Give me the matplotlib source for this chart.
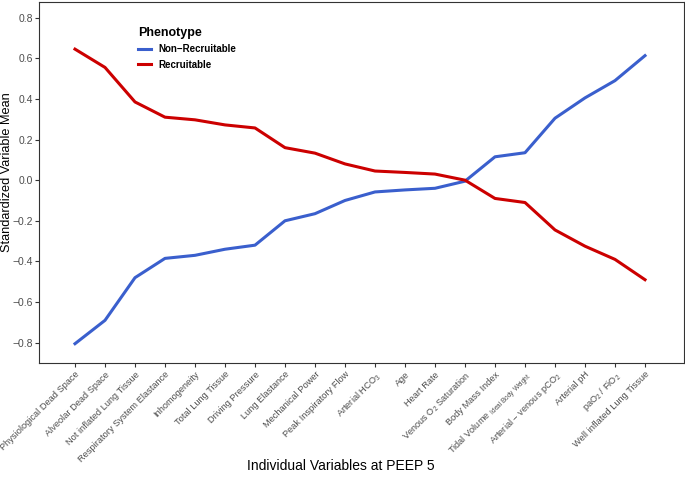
import numpy as np
import matplotlib
matplotlib.use("Agg")
import matplotlib.pyplot as plt

plt.rcParams['font.family'] = ['Liberation Sans', 'DejaVu Sans']
plt.rcParams['mathtext.fontset'] = 'custom'
plt.rcParams['mathtext.rm'] = 'Liberation Sans'
plt.rcParams['mathtext.it'] = 'Liberation Sans'

categories = [
    'Physiological Dead Space', 'Alveolar Dead Space', 'Not inflated Lung Tissue',
    'Respiratory System Elastance', 'Inhomogeneity', 'Total Lung Tissue',
    'Driving Pressure', 'Lung Elastance', 'Mechanical Power', 'Peak Inspiratory Flow',
    'Arterial HCO$_3$', 'Age', 'Heart Rate', 'Venous O$_2$ Saturation',
    'Body Mass Index', 'Tidal Volume $_{\\mathregular{Ideal\\ Body\\ Weight}}$',
    'Arterial \u2212 venous pCO$_2$', 'Arterial pH', 'paO$_2$ / FiO$_2$',
    'Well inflated Lung Tissue',
]
non_recruitable = [-0.805, -0.69, -0.48, -0.385, -0.37, -0.34, -0.32, -0.2, -0.165, -0.1,
                   -0.058, -0.048, -0.04, -0.005, 0.115, 0.135, 0.305, 0.405, 0.49, 0.613]
recruitable = [0.645, 0.555, 0.385, 0.31, 0.297, 0.272, 0.257, 0.16, 0.133, 0.08,
               0.045, 0.038, 0.03, 0.0, -0.09, -0.11, -0.245, -0.325, -0.39, -0.49]

fig = plt.figure(figsize=(6.85, 4.78), dpi=100)
ax = fig.add_axes([39 / 685, 1 - 363 / 478, (684 - 39) / 685, 361 / 478])

x = np.arange(len(categories))
ax.plot(x, non_recruitable, color='#3A5FCD', lw=2.2, label='Non\u2212Recruitable')
ax.plot(x, recruitable, color='#CC0000', lw=2.2, label='Recruitable')

ax.set_xlim(-1.2, len(categories) - 1 + 1.3)
ax.set_ylim(-0.9, 0.877)
ax.set_yticks([-0.8, -0.6, -0.4, -0.2, 0.0, 0.2, 0.4, 0.6, 0.8])
ax.set_yticklabels(['\u22120.8', '\u22120.6', '\u22120.4', '\u22120.2', '0.0', '0.2', '0.4', '0.6', '0.8'])
ax.set_xticks(x)
ax.set_xticklabels(categories, rotation=45, ha='right', rotation_mode='anchor')

for s in ax.spines.values():
    s.set_color('#333333')
    s.set_linewidth(0.8)
ax.tick_params(colors='#333333', labelcolor='#4D4D4D', length=3, width=0.8)
ax.tick_params(axis='y', labelsize=7.5, pad=1.5)
ax.tick_params(axis='x', labelsize=6.7, pad=2)

fig.text(7 / 685, 1 - 172 / 478, 'Standardized Variable Mean', fontsize=9.2, rotation=90,
         ha='center', va='center')
fig.text(0.497, 1 - 466 / 478, 'Individual Variables at PEEP 5', fontsize=10,
         ha='center', va='center')

leg = ax.legend(title='Phenotype', loc='upper left', bbox_to_anchor=(0.14, 0.955), frameon=False,
                fontsize=7, title_fontsize=9, handlelength=1.3, labelspacing=0.55,
                handletextpad=0.8)
leg.get_title().set_fontweight('bold')
leg._legend_box.align = 'left'
for t in leg.get_texts():
    t.set_fontweight('bold')

fig.savefig('out.png', dpi=100)
